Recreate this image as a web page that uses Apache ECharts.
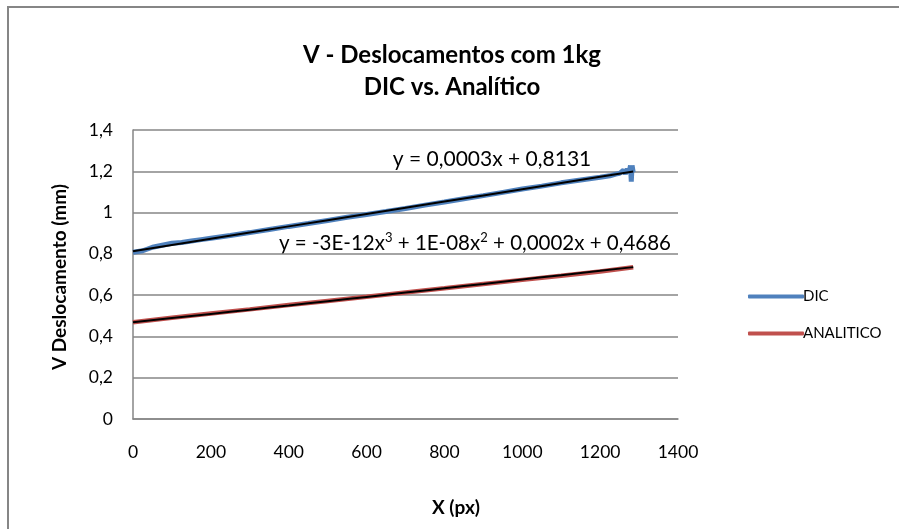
<!DOCTYPE html>
<html>
<head>
<meta charset="utf-8">
<script src="https://cdn.jsdelivr.net/npm/echarts@6/dist/echarts.min.js"></script>
<style>
  html, body { margin: 0; padding: 0; background: #fff; }
  #chart { width: 899px; height: 529px; }
</style>
</head>
<body>
<div id="chart"></div>
<script>
// Measured vertical displacement (DIC) along X
const dicX = [0, 25, 50, 75, 100, 125, 150, 175, 200, 250, 300, 350, 400, 450, 500, 550, 600, 650, 700, 750,
  800, 850, 900, 950, 1000, 1050, 1100, 1150, 1200, 1225, 1240, 1250, 1260, 1265, 1270, 1275, 1278, 1280, 1282, 1285];
const dicY = [0.808, 0.815, 0.832, 0.842, 0.851, 0.855, 0.862, 0.869, 0.876, 0.889, 0.903, 0.918, 0.933, 0.947,
  0.962, 0.977, 0.991, 1.005, 1.020, 1.036, 1.051, 1.067, 1.082, 1.098, 1.114, 1.128, 1.144, 1.158, 1.171,
  1.178, 1.186, 1.190, 1.205, 1.188, 1.212, 1.200, 1.228, 1.150, 1.228, 1.195];

// Analytical solution
const anaX = [0, 100, 200, 300, 400, 500, 600, 700, 800, 900, 1000, 1100, 1200, 1285];
const anaY = [0.469, 0.490, 0.511, 0.531, 0.552, 0.572, 0.592, 0.613, 0.633, 0.654, 0.674, 0.694, 0.715, 0.735];

// Trendline coefficients (highest power first) as printed on the chart
const linCoef = [0.0003, 0.8131];
const polyCoef = [-3e-12, 1e-8, 0.0002, 0.4686];
const trendX = [0, 100, 200, 300, 400, 500, 600, 700, 800, 900, 1000, 1100, 1200, 1285];

const xTicks = [0, 200, 400, 600, 800, 1000, 1200, 1400];
const yTicks = [0, 0.2, 0.4, 0.6, 0.8, 1, 1.2, 1.4];

const evalPoly = (c, x) => c.reduce((acc, k) => acc * x + k, 0);
const zip = (xs, ys) => xs.map((x, i) => [x, ys[i]]);

const font = 'Lato, "Open Sans", "Liberation Sans", sans-serif';

const chart = echarts.init(document.getElementById('chart'));
chart.setOption({
  animation: false,
  backgroundColor: '#fff',
  grid: { left: 133, right: 221, top: 130, bottom: 110 },
  xAxis: {
    type: 'value', min: xTicks[0], max: xTicks[xTicks.length - 1], interval: 200,
    axisLine: { lineStyle: { color: '#868686', width: 1.5 } },
    axisTick: { show: false },
    splitLine: { show: false },
    axisLabel: { color: '#000', fontSize: 17.5, fontFamily: font, margin: 24, formatter: v => String(v) }
  },
  yAxis: {
    type: 'value', min: yTicks[0], max: yTicks[yTicks.length - 1], interval: 0.2,
    axisLine: { show: true, lineStyle: { color: '#868686', width: 1.5 } },
    axisTick: { show: false },
    splitLine: { lineStyle: { color: '#868686', width: 1.5 } },
    axisLabel: {
      color: '#000', fontSize: 17.5, fontFamily: font, margin: 20,
      formatter: v => String(Math.round(v * 10) / 10).replace('.', ',')
    }
  },
  legend: {
    orient: 'vertical', left: 743, top: 284, itemGap: 22,
    itemWidth: 56, itemHeight: 4, icon: 'roundRect',
    textStyle: { fontSize: 15, fontFamily: font, color: '#000', padding: [0, 0, 0, -6] },
    data: ['DIC', 'ANALITICO']
  },
  series: [
    {
      name: 'DIC', type: 'line', data: zip(dicX, dicY), showSymbol: false,
      lineStyle: { color: '#4F81BD', width: 5 }, itemStyle: { color: '#4F81BD' }, z: 2
    },
    {
      name: 'ANALITICO', type: 'line', data: zip(anaX, anaY), showSymbol: false,
      lineStyle: { color: '#C0504D', width: 4.5 }, itemStyle: { color: '#C0504D' }, z: 2
    },
    {
      name: 'Linear (DIC)', type: 'line', showSymbol: false, z: 3,
      data: trendX.map(x => [x, evalPoly(linCoef, x)]),
      lineStyle: { color: '#000', width: 2 }
    },
    {
      name: 'Polinomial (ANALITICO)', type: 'line', showSymbol: false, z: 3, smooth: true,
      data: trendX.map(x => [x, evalPoly(polyCoef, x)]),
      lineStyle: { color: '#000', width: 2 }
    }
  ],
  graphic: [
    { type: 'rect', shape: { x: 8, y: 7, width: 1200, height: 1200 }, silent: true,
      style: { fill: 'none', stroke: '#868686', lineWidth: 2 } },
    { type: 'text', x: 452, y: 55, style: {
        text: 'V - Deslocamentos com 1kg', fill: '#000', align: 'center', verticalAlign: 'middle',
        font: 'bold 24px ' + font } },
    { type: 'text', x: 452, y: 87, style: {
        text: 'DIC vs. Analítico', fill: '#000', align: 'center', verticalAlign: 'middle',
        font: 'bold 24px ' + font } },
    { type: 'text', x: 456, y: 508, style: {
        text: 'X (px)', fill: '#000', align: 'center', verticalAlign: 'middle',
        font: 'bold 19px ' + font } },
    { type: 'text', x: 60, y: 277, rotation: Math.PI / 2, style: {
        text: 'V Deslocamento (mm)', fill: '#000', align: 'center', verticalAlign: 'middle',
        font: 'bold 19px ' + font } },
    { type: 'text', x: 492, y: 159, style: {
        text: 'y = 0,0003x + 0,8131', fill: '#000', align: 'center', verticalAlign: 'middle',
        font: '21px ' + font } },
    { type: 'text', x: 475, y: 243, style: {
        text: 'y = -3E-12x{s|3} + 1E-08x{s|2} + 0,0002x + 0,4686', fill: '#000', align: 'center', verticalAlign: 'middle',
        font: '20.5px ' + font,
        rich: { s: { fontSize: 13, fontFamily: font, fill: '#000', padding: [0, 0, 10, 0] } } } }
  ]
});
</script>
</body>
</html>
